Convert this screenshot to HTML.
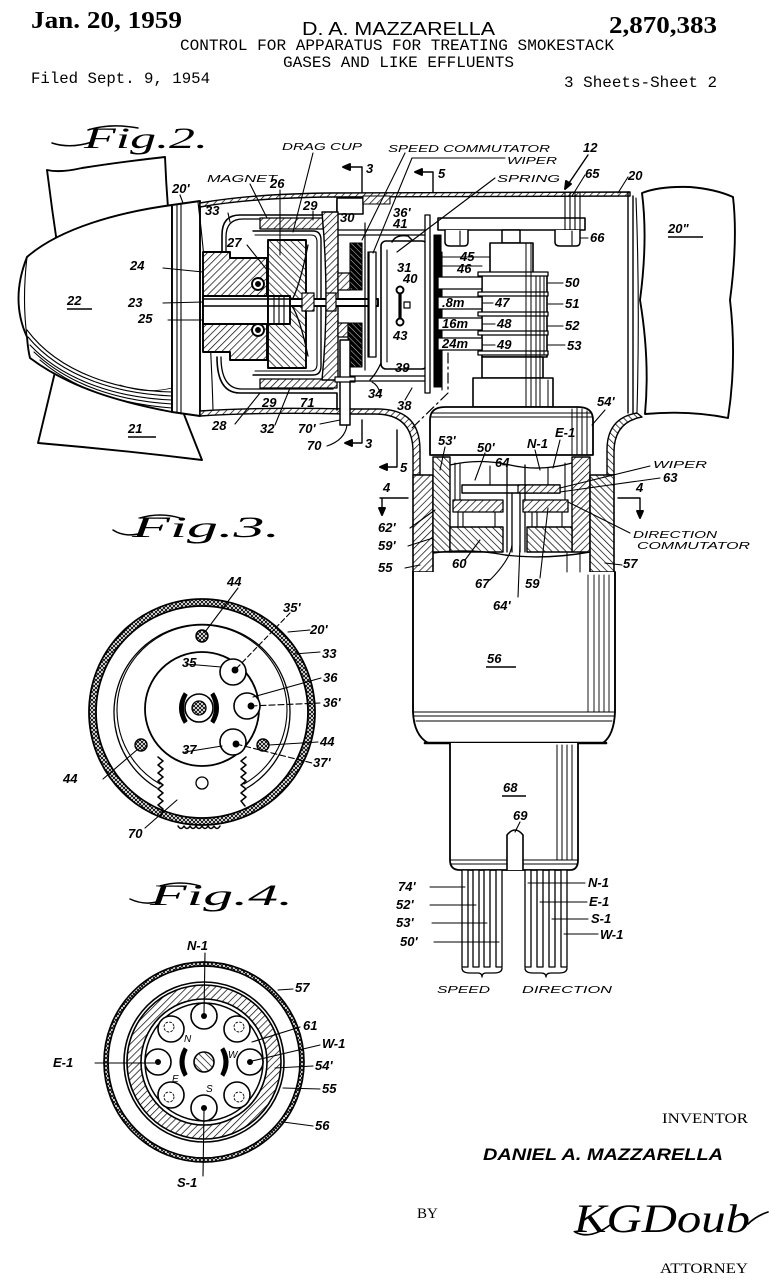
<!DOCTYPE html>
<html><head><meta charset="utf-8"><style>
html,body{margin:0;padding:0;background:#fff;}
svg{display:block}
.l{font-family:"Liberation Sans",sans-serif;font-style:italic;font-weight:bold;font-size:13px;fill:#000;stroke:none}
.s{font-family:"Liberation Sans",sans-serif;font-style:italic;font-size:10px;fill:#000;stroke:none}
.m{font-family:"Liberation Mono",monospace;font-size:16px;fill:#000;stroke:none}
</style></head><body>
<svg width="784" height="1280" viewBox="0 0 784 1280" xmlns="http://www.w3.org/2000/svg">
<defs>
<pattern id="hA" patternUnits="userSpaceOnUse" width="5" height="5" patternTransform="rotate(45)"><rect width="5" height="5" fill="#fff"/><line x1="0" y1="0" x2="0" y2="5" stroke="#000" stroke-width="1.4"/></pattern>
<pattern id="hB" patternUnits="userSpaceOnUse" width="5" height="5" patternTransform="rotate(-45)"><rect width="5" height="5" fill="#fff"/><line x1="0" y1="0" x2="0" y2="5" stroke="#000" stroke-width="1.4"/></pattern>
<pattern id="hD" patternUnits="userSpaceOnUse" width="4" height="4" patternTransform="rotate(-45)"><rect width="4" height="4" fill="#000"/><line x1="0" y1="0" x2="0" y2="4" stroke="#fff" stroke-width="0.8"/></pattern>
<pattern id="hX" patternUnits="userSpaceOnUse" width="4" height="4"><rect width="4" height="4" fill="#fff"/><path d="M0,0 L4,4 M4,0 L0,4" stroke="#000" stroke-width="0.9"/></pattern>
</defs>

<!-- HEADER -->
<text x="31" y="28" font-family="Liberation Serif" font-weight="bold" font-size="24" textLength="151" lengthAdjust="spacingAndGlyphs">Jan. 20, 1959</text>
<text x="302" y="35" font-family="Liberation Sans" font-size="18" textLength="193" lengthAdjust="spacingAndGlyphs">D. A. MAZZARELLA</text>
<text x="609" y="33" font-family="Liberation Serif" font-weight="bold" font-size="24" textLength="108" lengthAdjust="spacingAndGlyphs">2,870,383</text>
<text class="m" x="180" y="50" textLength="434" lengthAdjust="spacingAndGlyphs">CONTROL FOR APPARATUS FOR TREATING SMOKESTACK</text>
<text class="m" x="283" y="67" textLength="231" lengthAdjust="spacingAndGlyphs">GASES AND LIKE EFFLUENTS</text>
<text class="m" x="31" y="83" textLength="179" lengthAdjust="spacingAndGlyphs">Filed Sept. 9, 1954</text>
<text class="m" x="564" y="87" textLength="153" lengthAdjust="spacingAndGlyphs">3 Sheets-Sheet 2</text>

<g fill="none" stroke="#000" stroke-width="1.9" stroke-linejoin="round" stroke-linecap="round">

<!-- FIG 2 label -->
<path d="M52,143 Q70,149 92,142" stroke-width="1.5"/>
<path d="M88,130 Q110,123 138,128" stroke-width="1.5"/>
<text x="84" y="148" font-family="Liberation Serif" font-style="italic" font-size="30" textLength="124" lengthAdjust="spacingAndGlyphs" fill="#000" stroke="none">Fig.2.</text>

<!-- blades -->
<path d="M58,250 Q52,210 47,170 Q60,173 82,168 Q120,162 165,157 Q166,182 168,208" fill="#fff"/>
<path d="M55,372 Q46,410 38,443 Q120,450 202,460 Q190,430 180,404" fill="#fff"/>
<!-- cone 22 -->
<path d="M172,205 C120,212 60,228 27,257 Q10,300 27,337 Q28,350 30,358 C70,388 120,402 172,412 Z" fill="#fff"/>
<path d="M27,257 Q22,300 27,337" stroke-width="1.1"/>
<path d="M27,330 C60,374 120,391 172,392" stroke-width="1.1"/>
<path d="M28,337 C62,378 120,394 172,396" stroke-width="1.1"/>
<path d="M30,345 C65,382 120,398 172,400" stroke-width="1.1"/>
<path d="M34,352 C70,386 120,401 172,404" stroke-width="1.1"/>
<path d="M40,360 C75,390 120,404 172,408" stroke-width="1.1"/>
<path d="M120,385 C140,392 155,392 172,388" stroke-width="0.8"/>
<!-- band 20' -->
<path d="M172,205 L200,201 L200,416 L172,412 Z" fill="#fff"/>
<path d="M177,204 L177,413 M181,203 L181,414 M198,202 Q210,300 213,410" stroke-width="1.1"/>

<!-- housing top -->
<path d="M200,203 Q250,194 330,193 L630,192 L630,196 L330,197 Q250,198 200,207 Z" fill="url(#hA)" stroke-width="1.4"/>
<!-- housing bottom / elbow left -->
<path d="M200,416 Q260,412 345,414 L375,414 Q413,414 413,452 L413,475 L420,475 L420,450 Q420,409 378,409 L345,409 Q260,407 200,411 Z" fill="url(#hA)" stroke-width="1.4"/>
<!-- right wall and elbow -->
<path d="M628,192 L628,413 M633,196 L633,414" stroke-width="1.4"/>
<path d="M637,413 Q607,418 607,450 L607,475 L614,475 L614,452 Q614,422 642,417 Z" fill="url(#hB)" stroke-width="1.4"/>
<!-- blade 20'' -->
<path d="M642,193 Q660,186 690,187 Q715,189 733,197 Q738,240 730,300 Q737,360 728,418 Q690,410 645,414 Q650,360 640,300 Q648,240 642,193 Z" fill="#fff"/>
<path d="M636,198 Q640,300 637,412" stroke-width="1.1"/>

<!-- interior shell 33 -->
<path d="M337,200 L337,215 L240,215 Q222,215 222,235 L222,257" stroke-width="1.6"/>
<path d="M333,219 L243,219 Q226,219 226,237 L226,257" stroke-width="1.3"/>
<path d="M217,357 Q217,393 240,393 L337,393 L337,410" stroke-width="1.6"/>
<path d="M221,357 Q221,389 242,389 L333,389" stroke-width="1.3"/>
<rect x="337" y="198" width="26" height="16" fill="#fff" stroke-width="1.5"/>
<rect x="363" y="196" width="27" height="8" fill="url(#hA)" stroke-width="1.1"/>

<!-- block 24 -->
<path d="M203,252 L230,252 L230,258 L267,258 L267,360 L230,360 L230,352 L203,352 Z" fill="url(#hA)"/>
<rect x="203" y="296" width="65" height="28" fill="#fff"/>
<circle cx="258" cy="284" r="6" fill="#fff"/><circle cx="258" cy="284" r="2" fill="#000"/>
<circle cx="258" cy="330" r="6" fill="#fff"/><circle cx="258" cy="330" r="2" fill="#000"/>
<!-- top / bottom bars 29, 32 -->
<rect x="260" y="218" width="63" height="11" fill="url(#hA)" stroke-width="1.3"/>
<rect x="260" y="379" width="77" height="9" fill="url(#hA)" stroke-width="1.3"/>
<!-- magnet 26 -->
<rect x="268" y="240" width="38" height="128" fill="url(#hB)"/>
<rect x="268" y="296" width="22" height="28" fill="#fff"/>
<path d="M274,296 L274,324 M279,296 L279,324 M284,296 L284,324" stroke-width="1.1"/>
<!-- drag cup -->
<path d="M253,231 L313,231 Q321,231 321,240 L321,366 Q321,375 313,375 L253,375" stroke-width="1.4"/>
<path d="M255,235 L311,235 Q317,235 317,242 L317,364 Q317,371 311,371 L255,371" stroke-width="1.1"/>
<path d="M308,245 Q300,285 292,300 M308,356 Q300,318 292,306" stroke-width="1.3"/>
<!-- part 30 -->
<path d="M322,212 L338,212 L338,380 L322,380 Q330,300 322,212 Z" fill="url(#hA)" stroke-width="1.4"/>
<!-- shaft -->
<path d="M203,299 L378,299 M203,306 L378,306" stroke-width="1.5"/>
<rect x="290" y="299" width="88" height="7" fill="#fff"/>
<rect x="302" y="293" width="12" height="18" fill="url(#hA)" stroke-width="1.2"/>
<rect x="326" y="293" width="10" height="18" fill="url(#hA)" stroke-width="1.2"/>
<rect x="338" y="273" width="12" height="17" fill="url(#hA)" stroke-width="1.2"/>
<rect x="338" y="323" width="10" height="14" fill="url(#hA)" stroke-width="1.2"/>
<!-- speed commutator discs -->
<rect x="350" y="243" width="12" height="47" fill="url(#hD)" stroke-width="1.1"/>
<rect x="348" y="323" width="14" height="44" fill="url(#hD)" stroke-width="1.1"/>
<path d="M365,223 L365,370 M368,252 L368,357" stroke-width="1.2"/>
<rect x="369" y="252" width="7" height="105" fill="#fff" stroke-width="1.3"/>
<!-- post 70 -->
<rect x="340" y="340" width="10" height="85" fill="#fff" stroke-width="1.5"/>
<rect x="335" y="377" width="20" height="5" fill="#fff" stroke-width="1.2"/>
<!-- horizontal interior lines -->
<path d="M338,230 L427,230 M338,235 L427,235 M350,376 L430,376 M350,381 L430,381" stroke-width="1.2"/>
<!-- box 31 -->
<rect x="381" y="241" width="46" height="128" rx="5" fill="#fff" stroke-width="1.6"/>
<path d="M387,250 L387,362" stroke-width="1.1"/>
<path d="M400,290 L400,322" stroke-width="3.2"/>
<circle cx="400" cy="290" r="3.5" fill="#fff"/><circle cx="400" cy="322" r="3.5" fill="#fff"/>
<rect x="404" y="302" width="6" height="6" fill="#fff" stroke-width="1.2"/>
<path d="M392,242 Q396,234 408,236 L413,241" stroke-width="1.5"/>
<path d="M381,363 Q376,374 370,380" stroke-width="1.3"/>
<!-- speed commutator plate -->
<rect x="425" y="215" width="5" height="178" fill="#fff" stroke-width="1.3"/>
<rect x="434" y="235" width="7" height="152" fill="#000" stroke-width="1.1"/>
<path d="M442,252 L442,390" stroke-width="1.1"/>

<!-- bracket 66 / 65 -->
<rect x="438" y="218" width="147" height="12" fill="#fff" stroke-width="1.6"/>
<path d="M565,193 L565,230 M570,193 L570,230 M575,193 L575,230 M580,193 L580,230" stroke-width="1.1"/>
<path d="M445,230 L445,242 Q445,246 450,246 L464,246 Q468,246 468,242 L468,230" fill="#fff" stroke-width="1.5"/>
<path d="M555,230 L555,242 Q555,246 560,246 L576,246 Q580,246 580,242 L580,230" fill="#fff" stroke-width="1.5"/>
<path d="M460,231 L460,245 M572,231 L572,245" stroke-width="1.1"/>
<!-- spindle -->
<rect x="502" y="230" width="18" height="13" fill="#fff" stroke-width="1.5"/>
<rect x="490" y="243" width="43" height="30" fill="#fff" stroke-width="1.6"/>
<rect x="482" y="273" width="65" height="84" fill="#fff" stroke-width="1.6"/>
<rect x="478" y="272" width="70" height="4" fill="#fff" stroke-width="1.3"/>
<rect x="478" y="292" width="70" height="4" fill="#fff" stroke-width="1.3"/>
<rect x="478" y="312" width="70" height="4" fill="#fff" stroke-width="1.3"/>
<rect x="478" y="331" width="70" height="4" fill="#fff" stroke-width="1.3"/>
<rect x="478" y="351" width="70" height="4" fill="#fff" stroke-width="1.3"/>
<rect x="482" y="357" width="61" height="21" fill="#fff" stroke-width="1.6"/>
<rect x="473" y="378" width="80" height="29" fill="#fff" stroke-width="1.6"/>
<path d="M526,243 L526,407 M531,243 L531,407 M536,276 L536,407 M540,276 L540,407 M544,276 L544,355 M548,380 L548,407" stroke-width="1"/>
<!-- contact arms -->
<rect x="438" y="277" width="44" height="12" fill="#fff" stroke-width="1.3"/>
<rect x="438" y="297" width="44" height="12" fill="#fff" stroke-width="1.3"/>
<rect x="438" y="318" width="44" height="12" fill="#fff" stroke-width="1.3"/>
<rect x="438" y="338" width="44" height="12" fill="#fff" stroke-width="1.3"/>
<path d="M442,257 L490,257 M442,266 L482,266" stroke-width="1.1"/>
<!-- section dash line -->
<path d="M448,353 L448,393 L410,430" stroke-width="1.2" stroke-dasharray="10 4 2 4"/>

<!-- cap 54' -->
<path d="M430,455 L430,420 Q430,407 445,407 L578,407 Q593,407 593,420 L593,455 Z" fill="#fff" stroke-width="1.8"/>
<path d="M431,413 L592,413 M431,417 L592,417" stroke-width="1.1"/>
<path d="M572,409 L572,455 M577,408 L577,455 M582,409 L582,455 M587,411 L587,455" stroke-width="1"/>

<!-- vertical housing section -->
<rect x="413" y="475" width="20" height="97" fill="url(#hA)" stroke-width="1.6"/>
<rect x="433" y="457" width="17" height="95" fill="url(#hB)" stroke-width="1.4"/>
<rect x="572" y="457" width="18" height="95" fill="url(#hA)" stroke-width="1.4"/>
<rect x="590" y="475" width="24" height="97" fill="url(#hB)" stroke-width="1.6"/>
<path d="M450,465 Q480,458 510,465 Q540,472 572,463" stroke-width="1.3"/>
<path d="M455,463 L455,500 M460,463 L460,500 M490,466 L490,485 M548,468 L548,485 M565,463 L565,500" stroke-width="1.1"/>
<rect x="462" y="485" width="98" height="8" fill="#fff" stroke-width="1.4"/>
<rect x="518" y="485" width="42" height="8" fill="url(#hA)" stroke-width="1.2"/>
<path d="M507,465 L507,552 M525,465 L525,552 M512,493 L512,552 M520,493 L520,552" stroke-width="1.3"/>
<rect x="453" y="500" width="50" height="12" fill="url(#hA)" stroke-width="1.3"/>
<rect x="523" y="500" width="45" height="12" fill="url(#hA)" stroke-width="1.3"/>
<path d="M458,512 L458,527 M463,512 L463,527 M495,512 L495,527 M532,512 L532,527 M537,512 L537,527 M562,512 L562,527" stroke-width="1.1"/>
<rect x="450" y="527" width="53" height="25" fill="url(#hB)" stroke-width="1.4"/>
<rect x="527" y="527" width="45" height="25" fill="url(#hB)" stroke-width="1.4"/>
<path d="M433,553 Q470,548 505,555 Q545,560 590,552" stroke-width="1.4"/>

<!-- body 56 -->
<path d="M413,572 L413,712 Q414,735 428,743 L603,743 Q614,735 615,712 L615,572" fill="#fff" stroke-width="1.9"/>
<path d="M413,712 L615,712 M414,716 L614,716 M416,721 L612,721" stroke-width="1.1"/>
<path d="M425,743 L606,743" stroke-width="2.6"/>
<path d="M588,575 L588,712 M594,575 L594,712 M599,575 L599,712 M604,575 L604,712 M609,575 L609,712" stroke-width="0.9"/>
<path d="M567,553 L567,572 M580,553 L580,572" stroke-width="1"/>
<!-- 68 -->
<path d="M450,743 L450,860 Q450,870 460,870 L570,870 Q578,870 578,860 L578,743" fill="#fff" stroke-width="1.8"/>
<path d="M451,860 L577,860 M451,864 L577,864" stroke-width="1.1"/>
<path d="M557,745 L557,860 M562,745 L562,860 M567,745 L567,860 M572,745 L572,860" stroke-width="1"/>
<path d="M507,870 L507,835 Q515,825 523,835 L523,870" fill="#fff" stroke-width="1.6"/>
<!-- pins -->
<g stroke-width="1.3" fill="#fff">
<rect x="462" y="870" width="6" height="97"/><rect x="473" y="870" width="6" height="97"/><rect x="484" y="870" width="6" height="97"/><rect x="496" y="870" width="6" height="97"/>
<rect x="525" y="870" width="6" height="97"/><rect x="537" y="870" width="6" height="97"/><rect x="549" y="870" width="6" height="97"/><rect x="561" y="870" width="6" height="97"/>
</g>
<path d="M462,968 Q462,973 470,973 L478,973 Q482,973 482,977 Q482,973 486,973 L494,973 Q502,973 502,968" stroke-width="1.3"/>
<path d="M525,968 Q525,973 533,973 L541,973 Q546,973 546,977 Q546,973 551,973 L559,973 Q567,973 567,968" stroke-width="1.3"/>

<!-- section arrows -->
<path d="M362,192 L362,167 L345,167" stroke-width="1.4"/><path d="M343,167 L350,164 L350,170 Z" fill="#000"/>
<path d="M433,192 L433,172 L417,172" stroke-width="1.4"/><path d="M415,172 L422,169 L422,175 Z" fill="#000"/>
<path d="M362,420 L362,443 L347,443" stroke-width="1.4"/><path d="M345,443 L352,440 L352,446 Z" fill="#000"/>
<path d="M397,430 L397,467 L382,467" stroke-width="1.4"/><path d="M380,467 L387,464 L387,470 Z" fill="#000"/>
<path d="M380,498 L408,498 M382,498 L382,512" stroke-width="1.4"/><path d="M382,515 L379,508 L385,508 Z" fill="#000"/>
<path d="M618,498 L640,498 L640,515" stroke-width="1.4"/><path d="M640,518 L637,511 L643,511 Z" fill="#000"/>
<path d="M588,155 L567,186" stroke-width="1.4"/><path d="M565,189 L566,181 L571,184 Z" fill="#000"/>

<!-- leaders fig 2 -->
<g stroke-width="1.1">
<path d="M313,153 L293,232"/><path d="M405,153 L362,240"/>
<path d="M412,158 L505,158 M412,158 L373,253"/>
<path d="M495,178 L397,252"/>
<path d="M585,175 L572,196 M628,177 L618,193 M588,238 L580,238 M458,257 L444,257"/>
<path d="M563,283 L548,283 M563,304 L548,304 M563,326 L548,326 M565,345 L548,345"/>
<path d="M483,303 L493,303 M483,324 L495,324 M483,345 L495,345"/>
<path d="M605,410 L592,425"/>
<path d="M250,184 L267,218 M280,190 L280,255 M180,195 L183,203 M228,213 L230,222 M313,211 L313,220 M247,245 L267,270"/>
<path d="M163,268 L203,272 M163,303 L203,302 M168,320 L203,320"/>
<path d="M235,424 L260,393 M275,425 L290,388 M320,424 L340,420 M327,446 Q345,440 347,425"/>
<path d="M380,393 Q378,385 372,382 M405,400 L412,388"/>
<path d="M445,447 L440,470 M485,453 L475,480 M535,450 L540,470 M560,440 L553,468"/>
<path d="M650,466 L560,488 M660,478 L560,492 M630,533 L568,502 M622,565 L605,563"/>
<path d="M465,560 L480,540 M490,580 Q510,560 512,545 M540,578 L548,508 M518,597 L520,545"/>
<path d="M410,528 L435,510 M408,546 L433,538 M405,568 L420,565"/>
<path d="M520,822 L515,832"/>
<path d="M430,887 L465,887 M430,905 L476,905 M432,923 L487,923 M434,942 L499,942"/>
<path d="M585,883 L528,883 M587,902 L540,902 M588,919 L552,919 M598,934 L564,934"/>
</g>

<!-- FIG 3 -->
<path d="M113,530 Q125,538 142,533" stroke-width="1.5"/>
<path d="M140,518 Q160,512 180,518" stroke-width="1.5"/>
<text x="132" y="537" font-family="Liberation Serif" font-style="italic" font-size="30" textLength="148" lengthAdjust="spacingAndGlyphs" fill="#000" stroke="none">Fig.3.</text>
<path d="M315,712 A113,113 0 1 1 89,712 A113,113 0 1 1 315,712 Z M308,712 A106,106 0 1 0 96,712 A106,106 0 1 0 308,712 Z" fill="url(#hX)" fill-rule="evenodd" stroke-width="1.8"/>
<path d="M157,788 A88,88 0 1 1 247,788" stroke-width="1.3"/>
<path d="M160,784 A85,85 0 1 1 244,784" stroke-width="1.1"/>
<circle cx="202" cy="709" r="57" fill="#fff" stroke-width="1.8"/>
<polyline points="158,757 163,761 158,765 163,769 158,773 163,777 158,781 163,785 158,789 163,793 158,797 163,801 158,805 163,809 161,816" stroke-width="1.5"/>
<polyline points="246,757 241,761 246,765 241,769 246,773 241,777 246,781 241,785 246,789 241,793 246,797 241,801 245,806" stroke-width="1.5"/>
<path d="M178,826 q3,5 6,0 q3,5 6,0 q3,5 6,0 q3,5 6,0 q3,5 6,0 q3,5 6,0 q3,5 6,0" stroke-width="1.5"/>
<circle cx="202" cy="783" r="6" stroke-width="1.3"/>
<circle cx="199" cy="708" r="14" stroke-width="1.6"/>
<circle cx="199" cy="708" r="7" fill="url(#hX)" stroke-width="1.3"/>
<path d="M184,693 Q175,708 184,723 L187,721 Q180,708 187,695 Z" fill="#000" stroke-width="1.1"/>
<path d="M214,693 Q223,708 214,723 L211,721 Q218,708 211,695 Z" fill="#000" stroke-width="1.1"/>
<circle cx="233" cy="672" r="13" fill="#fff" stroke-width="1.6"/><circle cx="235" cy="670" r="2.5" fill="#000"/>
<circle cx="247" cy="706" r="13" fill="#fff" stroke-width="1.6"/><circle cx="251" cy="706" r="2.5" fill="#000"/>
<circle cx="233" cy="742" r="13" fill="#fff" stroke-width="1.6"/><circle cx="236" cy="744" r="2.5" fill="#000"/>
<circle cx="202" cy="636" r="6" fill="url(#hX)" stroke-width="1.4"/>
<circle cx="141" cy="745" r="6" fill="url(#hX)" stroke-width="1.4"/>
<circle cx="263" cy="745" r="6" fill="url(#hX)" stroke-width="1.4"/>
<g stroke-width="1.1">
<path d="M238,588 L205,632"/>
<path d="M290,613 L235,670" stroke-dasharray="5 3"/>
<path d="M310,630 L288,632 M320,652 L294,654 M321,678 L253,697"/>
<path d="M251,706 L320,703" stroke-dasharray="6 3"/>
<path d="M318,742 L269,745 M103,779 L138,749"/>
<path d="M236,744 L312,763" stroke-dasharray="6 3"/>
<path d="M185,752 L222,746 M186,664 L221,667"/>
<path d="M145,828 L177,800"/>
</g>

<!-- FIG 4 -->
<path d="M130,899 Q145,906 160,901" stroke-width="1.5"/>
<path d="M160,886 Q180,880 200,886" stroke-width="1.5"/>
<text x="150" y="905" font-family="Liberation Serif" font-style="italic" font-size="30" textLength="143" lengthAdjust="spacingAndGlyphs" fill="#000" stroke="none">Fig.4.</text>
<path d="M304,1062 A100,100 0 1 1 104,1062 A100,100 0 1 1 304,1062 Z M300,1062 A96,96 0 1 0 108,1062 A96,96 0 1 0 300,1062 Z" fill="url(#hX)" fill-rule="evenodd" stroke-width="1.7"/>
<circle cx="204" cy="1062" r="80" stroke-width="1.6"/>
<path d="M281,1062 A77,77 0 1 1 127,1062 A77,77 0 1 1 281,1062 Z M267,1062 A63,63 0 1 0 141,1062 A63,63 0 1 0 267,1062 Z" fill="url(#hA)" fill-rule="evenodd" stroke-width="1.6"/>
<circle cx="204" cy="1062" r="59" fill="#fff" stroke-width="1.5"/>
<g stroke-width="1.6" fill="#fff">
<circle cx="204" cy="1016" r="13"/><circle cx="237" cy="1029" r="13"/><circle cx="250" cy="1062" r="13"/><circle cx="237" cy="1095" r="13"/>
<circle cx="204" cy="1108" r="13"/><circle cx="171" cy="1095" r="13"/><circle cx="158" cy="1062" r="13"/><circle cx="171" cy="1029" r="13"/>
</g>
<g fill="#000" stroke="none">
<circle cx="204" cy="1016" r="3"/><circle cx="250" cy="1062" r="3"/><circle cx="204" cy="1108" r="3"/><circle cx="158" cy="1062" r="3"/>
</g>
<g stroke-width="0.9" stroke-dasharray="2 2">
<circle cx="239" cy="1027" r="5"/><circle cx="239" cy="1097" r="5"/><circle cx="169" cy="1097" r="5"/><circle cx="169" cy="1027" r="5"/>
</g>
<circle cx="204" cy="1062" r="10" fill="url(#hB)" stroke-width="1.6"/>
<path d="M184,1048 Q176,1062 184,1076 L187,1074 Q181,1062 187,1050 Z" fill="#000" stroke-width="1.1"/>
<path d="M224,1048 Q232,1062 224,1076 L221,1074 Q227,1062 221,1050 Z" fill="#000" stroke-width="1.1"/>
<text class="s" x="184" y="1042" font-size="9">N</text>
<text class="s" x="228" y="1058" font-size="9">W</text>
<text class="s" x="172" y="1082" font-size="9">E</text>
<text class="s" x="206" y="1092" font-size="9">S</text>
<g stroke-width="1.1">
<path d="M205,953 L204,1013 M95,1063 L155,1063 M293,989 L278,990 M300,1027 L252,1042 M320,1045 L252,1061 M313,1066 L275,1068 M320,1089 L283,1088 M313,1126 L283,1122 M203,1176 L204,1111"/>
</g>

<!-- signature tails -->
<path d="M575,1232 Q590,1240 610,1225" stroke-width="1.7"/>
<path d="M748,1224 Q756,1216 768,1212" stroke-width="1.7"/>
</g>

<!-- LABELS -->
<g>
<text class="s" x="282" y="150" textLength="80" lengthAdjust="spacingAndGlyphs">DRAG CUP</text>
<text class="s" x="388" y="152" textLength="162" lengthAdjust="spacingAndGlyphs">SPEED COMMUTATOR</text>
<text class="s" x="507" y="164" textLength="50" lengthAdjust="spacingAndGlyphs">WIPER</text>
<text class="s" x="497" y="182" textLength="63" lengthAdjust="spacingAndGlyphs">SPRING</text>
<text class="s" x="207" y="182" textLength="70" lengthAdjust="spacingAndGlyphs">MAGNET</text>
<text class="l" x="583" y="152">12</text>
<text class="l" x="585" y="178">65</text>
<text class="l" x="628" y="180">20</text>
<text class="l" x="668" y="233">20"</text>
<text class="l" x="590" y="242">66</text>
<text class="l" x="460" y="261">45</text>
<text class="l" x="457" y="273" font-size="11">46</text>
<text class="l" x="565" y="287">50</text>
<text class="l" x="565" y="308">51</text>
<text class="l" x="565" y="330">52</text>
<text class="l" x="567" y="350">53</text>
<text class="l" x="442" y="307" font-size="10">.8m</text>
<text class="l" x="495" y="307">47</text>
<text class="l" x="442" y="328" font-size="10">16m</text>
<text class="l" x="497" y="328">48</text>
<text class="l" x="442" y="348" font-size="10">24m</text>
<text class="l" x="497" y="349">49</text>
<text class="l" x="340" y="222">30</text>
<text class="l" x="393" y="217">36'</text>
<text class="l" x="393" y="228" font-size="11">41</text>
<text class="l" x="397" y="272" font-size="11">31</text>
<text class="l" x="403" y="283" font-size="10">40</text>
<text class="l" x="393" y="340" font-size="11">43</text>
<text class="l" x="395" y="372">39</text>
<text class="l" x="368" y="398">34</text>
<text class="l" x="397" y="410">38</text>
<text class="l" x="597" y="406">54'</text>
<text class="l" x="270" y="188">26</text>
<text class="l" x="172" y="193">20'</text>
<text class="l" x="205" y="215">33</text>
<text class="l" x="303" y="210">29</text>
<text class="l" x="227" y="247">27</text>
<text class="l" x="130" y="270">24</text>
<text class="l" x="128" y="307">23</text>
<text class="l" x="138" y="323">25</text>
<text class="l" x="67" y="305">22</text>
<text class="l" x="128" y="433">21</text>
<text class="l" x="212" y="430">28</text>
<text class="l" x="262" y="407">29</text>
<text class="l" x="300" y="407">71</text>
<text class="l" x="260" y="433">32</text>
<text class="l" x="298" y="433">70'</text>
<text class="l" x="307" y="450">70</text>
<text class="l" x="366" y="173">3</text>
<text class="l" x="438" y="178">5</text>
<text class="l" x="365" y="448">3</text>
<text class="l" x="400" y="472">5</text>
<text class="l" x="383" y="492">4</text>
<text class="l" x="636" y="492">4</text>
<text class="l" x="438" y="445">53'</text>
<text class="l" x="477" y="452">50'</text>
<text class="l" x="527" y="448" font-size="11">N-1</text>
<text class="l" x="555" y="437" font-size="11">E-1</text>
<text class="l" x="495" y="467">64</text>
<text class="s" x="653" y="468" textLength="54" lengthAdjust="spacingAndGlyphs">WIPER</text>
<text class="l" x="663" y="482">63</text>
<text class="s" x="633" y="538" textLength="84" lengthAdjust="spacingAndGlyphs">DIRECTION</text>
<text class="s" x="637" y="549" textLength="113" lengthAdjust="spacingAndGlyphs">COMMUTATOR</text>
<text class="l" x="623" y="568">57</text>
<text class="l" x="452" y="568">60</text>
<text class="l" x="475" y="588">67</text>
<text class="l" x="525" y="588">59</text>
<text class="l" x="493" y="610">64'</text>
<text class="l" x="378" y="532">62'</text>
<text class="l" x="378" y="550">59'</text>
<text class="l" x="378" y="572">55</text>
<text class="l" x="487" y="663">56</text>
<text class="l" x="503" y="792">68</text>
<text class="l" x="513" y="820">69</text>
<text class="l" x="398" y="891">74'</text>
<text class="l" x="396" y="909">52'</text>
<text class="l" x="396" y="927">53'</text>
<text class="l" x="400" y="946">50'</text>
<text class="l" x="588" y="887">N-1</text>
<text class="l" x="589" y="906">E-1</text>
<text class="l" x="591" y="923">S-1</text>
<text class="l" x="600" y="939">W-1</text>
<text class="s" x="437" y="993" font-size="11" textLength="53" lengthAdjust="spacingAndGlyphs">SPEED</text>
<text class="s" x="522" y="993" font-size="11" textLength="90" lengthAdjust="spacingAndGlyphs">DIRECTION</text>
<!-- fig 3 labels -->
<text class="l" x="227" y="586">44</text>
<text class="l" x="283" y="612">35'</text>
<text class="l" x="310" y="634">20'</text>
<text class="l" x="322" y="658">33</text>
<text class="l" x="182" y="667">35</text>
<text class="l" x="323" y="682">36</text>
<text class="l" x="323" y="707">36'</text>
<text class="l" x="320" y="746">44</text>
<text class="l" x="182" y="754">37</text>
<text class="l" x="313" y="767">37'</text>
<text class="l" x="63" y="783">44</text>
<text class="l" x="128" y="838">70</text>
<!-- fig 4 labels -->
<text class="l" x="187" y="950">N-1</text>
<text class="l" x="53" y="1067">E-1</text>
<text class="l" x="295" y="992">57</text>
<text class="l" x="303" y="1030">61</text>
<text class="l" x="322" y="1048">W-1</text>
<text class="l" x="315" y="1070">54'</text>
<text class="l" x="322" y="1093">55</text>
<text class="l" x="315" y="1130">56</text>
<text class="l" x="177" y="1187">S-1</text>
</g>
<!-- underlines -->
<g stroke="#000" stroke-width="1.4">
<line x1="67" y1="309" x2="92" y2="309"/><line x1="128" y1="437" x2="156" y2="437"/>
<line x1="668" y1="237" x2="703" y2="237"/><line x1="486" y1="667" x2="516" y2="667"/>
<line x1="502" y1="796" x2="526" y2="796"/>
</g>

<!-- bottom text -->
<text x="662" y="1123" font-family="Liberation Serif" font-size="15" textLength="86" lengthAdjust="spacingAndGlyphs">INVENTOR</text>
<text x="483" y="1160" font-family="Liberation Sans" font-style="italic" font-weight="bold" font-size="17" textLength="240" lengthAdjust="spacingAndGlyphs">DANIEL A. MAZZARELLA</text>
<text x="417" y="1218" font-family="Liberation Serif" font-size="15">BY</text>
<text x="574" y="1232" font-family="Liberation Serif" font-style="italic" font-size="40" textLength="176" lengthAdjust="spacingAndGlyphs">KGDoub</text>
<text x="660" y="1273" font-family="Liberation Serif" font-size="15" textLength="88" lengthAdjust="spacingAndGlyphs">ATTORNEY</text>
</svg>
</body></html>
